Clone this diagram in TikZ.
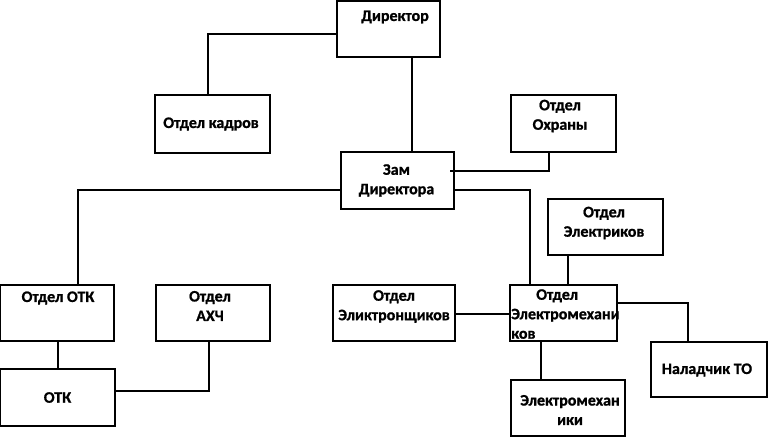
\documentclass[tikz,border=0pt]{standalone}
\usepackage{fontspec}
\setmainfont{Carlito}[BoldFeatures={FakeBold=1}]
\usetikzlibrary{calc, positioning}

\begin{document}
\begin{tikzpicture}[x=0.75pt, y=-0.75pt,
    orgbox/.style={draw=black, line width=1pt, fill=white, rectangle, inner sep=0pt, outer sep=0pt},
    orglabel/.style={font=\fontsize{12}{14.6}\selectfont\bfseries, align=center, inner sep=0pt},
    link/.style={draw=black, line width=1pt}]
  \useasboundingbox (0,0) rectangle (768,437);

  % Boxes
  \node[orgbox, minimum width=77.25pt, minimum height=42pt]   (dir)        at (388.5,29)  {};
  \node[orgbox, minimum width=86.25pt, minimum height=43.5pt] (kadry)      at (212.5,124) {};
  \node[orgbox, minimum width=78.75pt, minimum height=42.75pt] (ohrana)    at (563.5,123.5) {};
  \node[orgbox, minimum width=84.75pt, minimum height=42.75pt] (zam)       at (397.5,180.5) {};
  \node[orgbox, minimum width=85.5pt, minimum height=42pt]    (otkdep)     at (57,313)    {};
  \node[orgbox, minimum width=85.5pt, minimum height=42pt]    (ahch)       at (213,313)   {};
  \node[orgbox, minimum width=86.25pt, minimum height=42.75pt] (otk)       at (57.5,397.5) {};
  \node[orgbox, minimum width=91.5pt, minimum height=42pt]    (elektron)   at (394,313)   {};
  \node[orgbox, minimum width=80.25pt, minimum height=42pt]   (elmeh)      at (563.5,313) {};
  \node[orgbox, minimum width=86.25pt, minimum height=42pt]   (elektrik)   at (605.5,227) {};
  \node[orgbox, minimum width=87pt, minimum height=41.25pt]   (naladchik)  at (709,369.5) {};
  \node[orgbox, minimum width=85.5pt, minimum height=42pt]    (elmehaniki) at (568,408)   {};

  % Texts
  \node[orglabel] (t-dir)        at ($(dir)+(6.5,-12)$)      {Директор};
  \node[orglabel] (t-kadry)      at ($(kadry)+(-1.5,0)$)     {Отдел кадров};
  \node[orglabel] (t-ohrana)     at ($(ohrana)+(-3.5,-7.5)$) {Отдел\\Охраны};
  \node[orglabel] (t-zam)        at ($(zam)+(-1,0)$)         {Зам\\Директора};
  \node[orglabel] (t-otkdep)     at ($(otkdep)+(1,-15)$)     {Отдел ОТК};
  \node[orglabel] (t-ahch)       at ($(ahch)+(-3,-7)$)       {Отдел\\АХЧ};
  \node[orglabel] (t-otk)        at (otk)                    {ОТК};
  \node[orglabel] (t-elektron)   at ($(elektron)+(0,-6.5)$)  {Отдел\\Эликтронщиков};
  \node[orglabel, align=left, anchor=north west] (t-elmeh) at ($(elmeh.north west)+(1,4)$)
    {\hspace{18.75pt}Отдел\\Электромехани\\ков};
  \node[orglabel] (t-elektrik)   at ($(elektrik)+(-1.5,-4)$) {Отдел\\Электриков};
  \node[orglabel] (t-naladchik)  at ($(naladchik)+(-2,0.5)$) {Наладчик ТО};
  \node[orglabel] (t-elmehaniki) at ($(elmehaniki)+(2,2)$)   {Электромехан\\ики};

  % Connectors
  \draw[link] ($(dir.west)+(0,5)$) -| ($(kadry.north)+(-4.5,0)$);
  \draw[link] ($(dir.south)+(23.5,0)$) coordinate (d1) -- (d1 |- zam.north);
  \draw[link] ($(zam.east)+(-4,-9.5)$) -| ($(ohrana.south)+(-14.5,0)$);
  \draw[link] ($(zam.east)+(0,9.5)$) -| ($(elmeh.north)+(-33.5,0)$);
  \draw[link] ($(zam.west)+(0,9.5)$) -| ($(otkdep.north)+(21,0)$);
  \draw[link] ($(otkdep.south)+(1,0)$) coordinate (o1) -- (o1 |- otk.north);
  \draw[link] ($(otk.east)+(0,-6.5)$) -| ($(ahch.south)+(-4,0)$);
  \draw[link] ($(elektron.east)+(0,1)$) coordinate (e0) -- (e0 -| elmeh.west);
  \draw[link] ($(elektrik.south)+(-37.5,0)$) coordinate (e1) -- (e1 |- elmeh.north);
  \draw[link] ($(elmeh.east)+(0,-10)$) -| ($(naladchik.north)+(-21,0)$);
  \draw[link] ($(elmeh.south)+(-22.5,0)$) coordinate (e2) -- (e2 |- elmehaniki.north);
\end{tikzpicture}
\end{document}
